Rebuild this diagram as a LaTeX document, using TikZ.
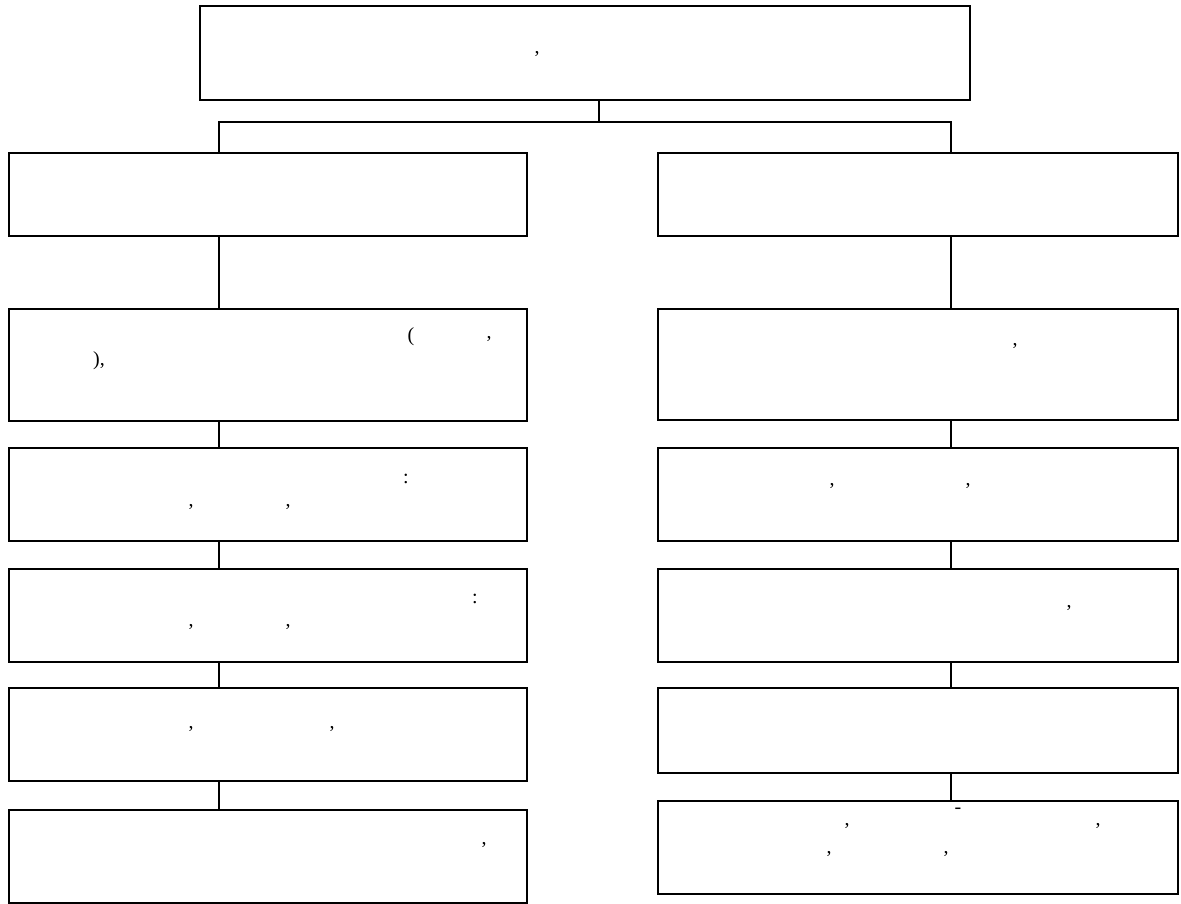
\documentclass[tikz,border=0pt]{standalone}
\usepackage{fontspec}
\setmainfont{Liberation Serif}
\begin{document}
\begin{tikzpicture}[x=1pt,y=1pt,
  boxnode/.style={draw=black, line width=2pt, rectangle, inner sep=0pt, anchor=north west, fill=white},
  link/.style={draw=black, line width=1.6pt},
  punct/.style={anchor=base, inner sep=0pt, font=\fontsize{20}{24}\selectfont}]
\useasboundingbox (0,0) rectangle (1181,-903);
% boxes (outer positions in px, y downward)
\node[boxnode, minimum width=770pt, minimum height=94pt] (T) at (199,-5) {};
\node[boxnode, minimum width=518pt, minimum height=83pt] (L1) at (8,-152) {};
\node[boxnode, minimum width=518pt, minimum height=112pt] (L2) at (8,-308) {};
\node[boxnode, minimum width=518pt, minimum height=93pt] (L3) at (8,-447) {};
\node[boxnode, minimum width=518pt, minimum height=93pt] (L4) at (8,-568) {};
\node[boxnode, minimum width=518pt, minimum height=93pt] (L5) at (8,-687) {};
\node[boxnode, minimum width=518pt, minimum height=93pt] (L6) at (8,-809) {};
\node[boxnode, minimum width=520pt, minimum height=83pt] (R1) at (657,-152) {};
\node[boxnode, minimum width=520pt, minimum height=111pt] (R2) at (657,-308) {};
\node[boxnode, minimum width=520pt, minimum height=93pt] (R3) at (657,-447) {};
\node[boxnode, minimum width=520pt, minimum height=93pt] (R4) at (657,-568) {};
\node[boxnode, minimum width=520pt, minimum height=85pt] (R5) at (657,-687) {};
\node[boxnode, minimum width=520pt, minimum height=93pt] (R6) at (657,-800) {};
% connector columns
\coordinate (xt) at (599,0);
\coordinate (xl) at (219,0);
\coordinate (xr) at (951,0);
\coordinate (bar) at (0,-122);
\draw[link] (T.south -| xt) -- (xt |- bar);
\draw[link] (L1.north -| xl) -- (xl |- bar) -- (xr |- bar) -- (R1.north -| xr);
\draw[link] (L1.south -| xl) -- (L2.north -| xl);
\draw[link] (L2.south -| xl) -- (L3.north -| xl);
\draw[link] (L3.south -| xl) -- (L4.north -| xl);
\draw[link] (L4.south -| xl) -- (L5.north -| xl);
\draw[link] (L5.south -| xl) -- (L6.north -| xl);
\draw[link] (R1.south -| xr) -- (R2.north -| xr);
\draw[link] (R2.south -| xr) -- (R3.north -| xr);
\draw[link] (R3.south -| xr) -- (R4.north -| xr);
\draw[link] (R4.south -| xr) -- (R5.north -| xr);
\draw[link] (R5.south -| xr) -- (R6.north -| xr);
% texts (only the punctuation is printed)
\node[punct] (t1) at (537,-53) {,};
\node[punct] (l2a) at (411,-341) {(};
\node[punct] (l2b) at (489,-338) {,};
\node[punct] (l2c) at (99,-365) {),};
\node[punct] (l3a) at (406,-483) {:};
\node[punct] (l3b) at (191,-506) {,};
\node[punct] (l3c) at (288,-506) {,};
\node[punct] (l4a) at (475,-603) {:};
\node[punct] (l4b) at (191,-626) {,};
\node[punct] (l4c) at (288,-626) {,};
\node[punct] (l5a) at (191,-728) {,};
\node[punct] (l5b) at (332,-728) {,};
\node[punct] (l6a) at (484,-844) {,};
\node[punct] (r2a) at (1015,-345) {,};
\node[punct] (r3a) at (832,-485) {,};
\node[punct] (r3b) at (968,-485) {,};
\node[punct] (r4a) at (1069,-607) {,};
\node[punct] (r6a) at (847,-825) {,};
\node[punct] (r6b) at (958,-813) {-};
\node[punct] (r6c) at (1098,-825) {,};
\node[punct] (r6d) at (829,-853) {,};
\node[punct] (r6e) at (946,-853) {,};
\end{tikzpicture}
\end{document}
